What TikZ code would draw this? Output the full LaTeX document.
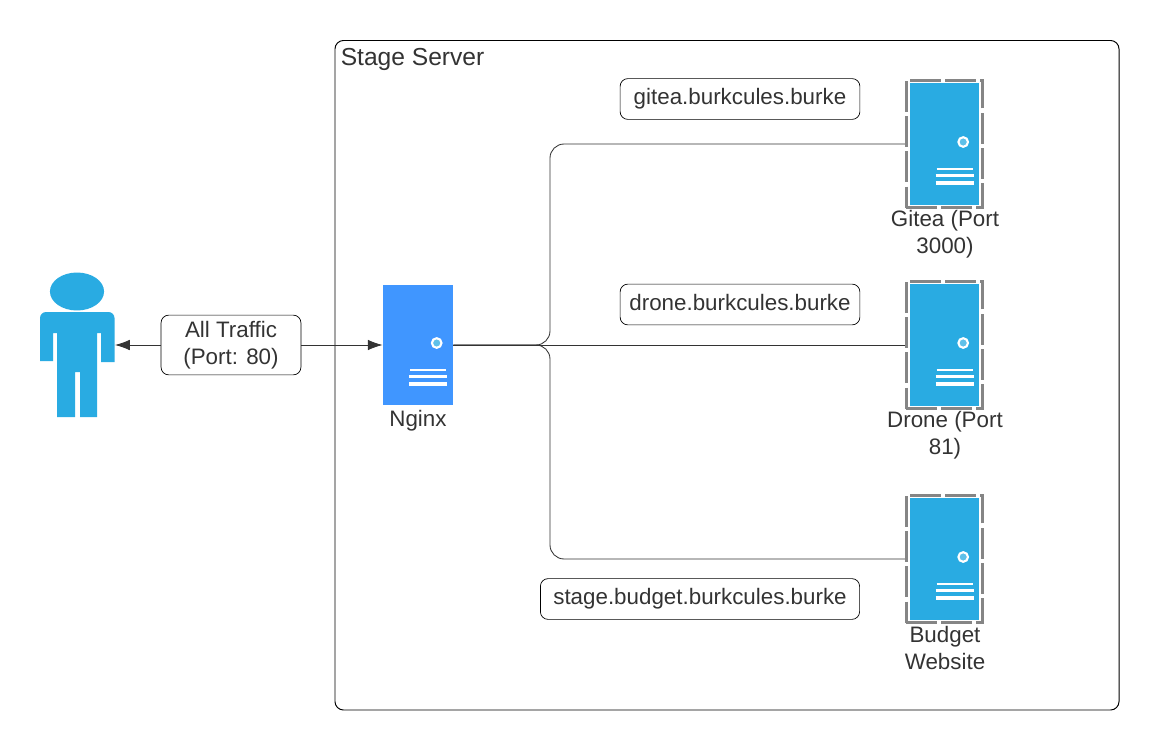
\documentclass[tikz,border=0pt]{standalone}
\usepackage{fontspec}
\usetikzlibrary{shapes.geometric,arrows.meta}
\setmainfont{Liberation Sans}
\definecolor{serverblue}{HTML}{29ABE2}
\definecolor{nginxblue}{HTML}{4096FF}
\definecolor{inktext}{HTML}{333333}
\definecolor{framegray}{HTML}{858585}
\tikzset{
  label box/.style={draw=black,line width=0.5pt,rounded corners=5.5pt,minimum height=29pt,align=center,inner sep=0pt},
  server body/.style={fill=serverblue,minimum width=49.5pt,minimum height=87pt,inner sep=0pt},
  server frame/.style={draw=framegray,line width=2pt,dash pattern=on 22pt off 3pt,minimum width=54.5pt,minimum height=90.5pt,inner sep=0pt},
  wire/.style={draw=inktext,line width=0.6pt},
  caption text/.style={align=center,inner sep=0pt},
  pics/server detail/.style={code={
    \draw[white,line width=1.5pt,fill=white!25!serverblue] (18.7,-2) circle (4.8);
    \draw[white,line width=1.5pt] (-8,24.7) -- (28,24.7);
    \draw[white,line width=2.4pt] (-9,31.7) -- (29,31.7);
    \draw[white,line width=2.4pt] (-9,39) -- (29,39);
  }}
}
\begin{document}
\begin{tikzpicture}
            [x=0.025cm,y=-0.025cm,every node/.style={text=inktext,font=\fontsize{15.9}{19.2}\selectfont}, >={Latex[length=10.5pt,width=7.5pt]}]

            \useasboundingbox (0,0) rectangle (1160,750);

            \draw[black,line width=0.7pt,rounded corners=6pt] (335,40.5) rectangle (1119,710);
            \node[anchor=west,inner sep=0pt,font=\fontsize{17.5}{20}\selectfont] (stage) at (340.5,59) {Stage Server};

            % person
            \node[ellipse,fill=serverblue,minimum width=38.5pt,minimum height=27pt,inner sep=0pt] (head) at (77,291.5) {};
            \fill[serverblue] (40,361) -- (40,318) arc (180:270:6) -- (108.5,312) arc (270:360:6) -- (114.5,362) -- (101,362) -- (101,333) -- (97,333) -- (97,417) -- (80,417) -- (80,372) -- (75,372) -- (75,417) -- (57,417) -- (57,333) -- (53,333) -- (53,361) -- cycle;
            \coordinate (hand) at (115,345);

            % servers
            \node[fill=nginxblue,minimum width=50pt,minimum height=85pt,inner sep=0pt] (nginx) at (418,345) {};
            \pic at (nginx.center) {server detail};
            \node[caption text] (nginxtext) at (418,420.5) {Nginx};

            \node[server body] (gitea) at (944.5,144) {};
            \node[server frame] (giteaframe) at (944.5,144) {};
            \pic at (gitea.center) {server detail};
            \node[caption text] (giteatext) at (945,234.5) {Gitea (Port\\3000)};

            \node[server body] (drone) at (944.5,345) {};
            \node[server frame] (droneframe) at (944.5,345) {};
            \pic at (drone.center) {server detail};
            \node[caption text] (dronetext) at (945,435.5) {Drone (Port\\81)};

            \node[server body] (budget) at (944.5,559) {};
            \node[server frame] (budgetframe) at (944.5,559) {};
            \pic at (budget.center) {server detail};
            \node[caption text] (budgettext) at (945,648) {Budget\\Website};

            % url and traffic labels
            \node[label box,minimum width=170.5pt] (giteaurl) at (740,99) {\raisebox{-1.4pt}{gitea.burkcules.burke}};
            \node[label box,minimum width=170.5pt] (droneurl) at (740,304.5) {\raisebox{3.4pt}{drone.burkcules.burke}};
            \node[label box,minimum width=227pt] (budgeturl) at (700,599) {stage.budget.burkcules.burke};
            \node[label box,minimum width=99.5pt,minimum height=42.5pt] (traffic) at (231,345) {All Traffic\\(Port: 80)};

            \coordinate (bend) at (550,345);

            \draw[wire,->] (traffic.west) -- (hand);
            \draw[wire,->] (traffic.east) -- (nginx.west);
            \draw[wire] (nginx.east) -- (droneframe.west);
            \draw[wire,rounded corners=10pt] (nginx.east) -- (bend) |- (giteaframe.west);
            \draw[wire,rounded corners=10pt] (nginx.east) -- (bend) |- (budgetframe.west);
          \end{tikzpicture}
\end{document}
